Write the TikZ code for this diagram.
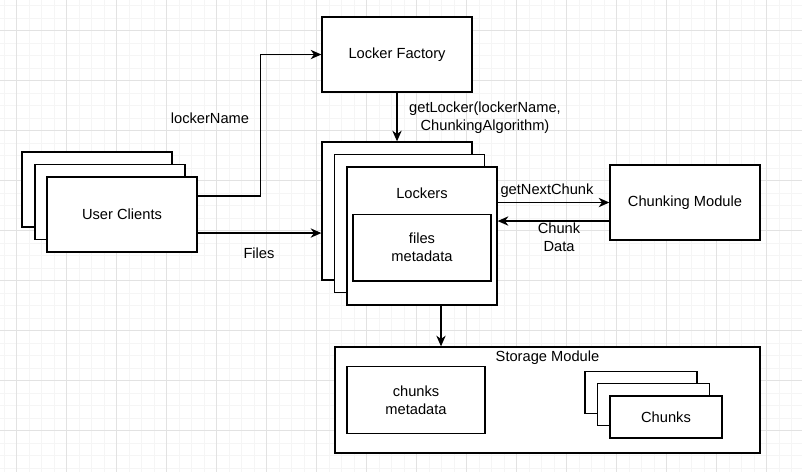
\documentclass[tikz,border=0pt]{standalone}
\usepackage{fontspec}
\setmainfont{Liberation Sans}
\usepackage{tikz}
\usetikzlibrary{arrows.meta,positioning}

\definecolor{gridmajor}{HTML}{E2E2E2}
\definecolor{gridminor}{HTML}{F5F5F5}

\begin{document}
\begin{tikzpicture}[
    x=0.75pt, y=-0.75pt,
    font=\fontsize{11}{13.5}\selectfont,
    box/.style={draw, line width=1pt, fill=white, inner sep=0pt, align=center, minimum width=112.5pt, minimum height=56.25pt},
    stackbox/.style={box, minimum height=103.5pt},
    innerbox/.style={box, minimum width=103.5pt, minimum height=50pt},
    chunkbox/.style={box, minimum width=84pt, minimum height=31.5pt},
    lbl/.style={align=center, inner sep=0pt},
    arrow/.style={-{Stealth[length=8pt, width=7pt, inset=2.5pt]}, line width=1pt}
]
% background grid
\useasboundingbox (0,0) rectangle (802,472);
\fill[white] (0,0) rectangle (802,472);
\foreach \gx in {4.2,16.7,...,802} \draw[gridminor, line width=0.6pt] (\gx,0) -- (\gx,472);
\foreach \gy in {5.5,18,...,472} \draw[gridminor, line width=0.6pt] (0,\gy) -- (802,\gy);
\foreach \gx in {16.7,66.7,...,802} \draw[gridmajor, line width=0.7pt] (\gx,0) -- (\gx,472);
\foreach \gy in {30.5,80.5,...,472} \draw[gridmajor, line width=0.7pt] (0,\gy) -- (802,\gy);

\node[box] (factory) at (397,54.5) {Locker Factory};

\node[box] (clients3) at (97,189.5) {};
\node[box] (clients2) at (110,202) {};
\node[box] (clients) at (122,214.5) {User Clients};

\node[stackbox] (lockers3) at (397,211) {};
\node[stackbox] (lockers2) at (409.5,223.5) {};
\node[stackbox] (lockers) at (422,236) {};
\node[lbl] (lockerstitle) at (422,193) {Lockers};
\node[innerbox] (files) at (422,247.5) {files\\metadata};

\node[box] (chunker) at (685,202.5) {Chunking Module};

\node[box, minimum width=318.75pt, minimum height=79.5pt] (storage) at (547.5,400) {};
\node[lbl] (storagetitle) at (547.5,358) {Storage Module};
\node[innerbox] (chunkmeta) at (416,400) {chunks\\metadata};
\node[chunkbox] (chunks3) at (641,392.5) {};
\node[chunkbox] (chunks2) at (653.5,404.5) {};
\node[chunkbox] (chunks) at (666,417) {Chunks};

\draw[arrow] ([yshift=13.9pt]clients.east) -- ++(63,0) |- (factory.west);
\draw[arrow] ([yshift=-13.9pt]clients.east) -- ([yshift=-13.9pt]clients.east -| lockers3.west);
\draw[arrow] (factory) -- (lockers3);
\draw[arrow] (lockers.east |- chunker.west) -- (chunker.west);
\draw[arrow] ([yshift=-13.9pt]chunker.west) -- ([yshift=-13.9pt]chunker.west -| lockers.east);
\draw[arrow] ([xshift=14.25pt]lockers.south) -- ([xshift=14.25pt]lockers.south |- storage.north);

\node[lbl] (namelbl) at (210,118) {lockerName};
\node[lbl] (fileslbl) at (259,253) {Files};
\node[lbl] (getlbl) at (485,118) {getLocker(lockerName,\\ChunkingAlgorithm)};
\node[lbl] (nextlbl) at (547,191) {getNextChunk};
\node[lbl] (datalbl) at (559,237) {Chunk\\Data};
\end{tikzpicture}
\end{document}
